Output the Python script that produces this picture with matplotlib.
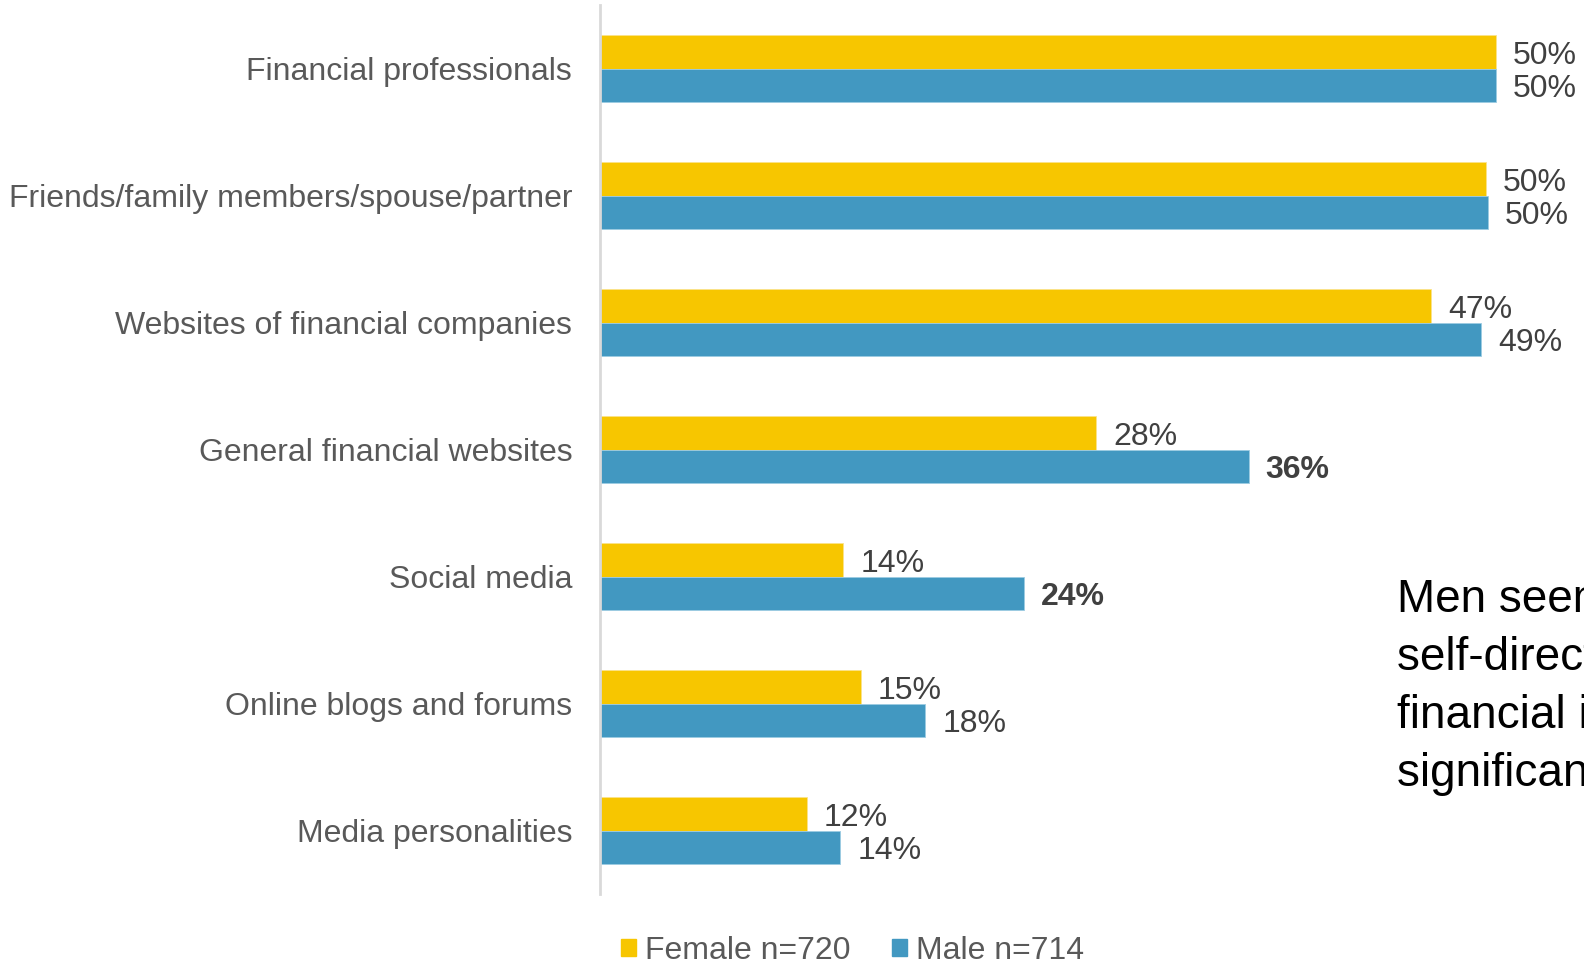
import numpy as np
import matplotlib.pyplot as plt
from matplotlib.patches import Patch

categories = ['Financial professionals',
              'Friends/family members/spouse/partner',
              'Websites of financial companies',
              'General financial websites',
              'Social media',
              'Online blogs and forums',
              'Media personalities']
female = [49.97, 49.41, 46.37, 27.66, 13.58, 14.54, 11.55]
male = [49.97, 49.52, 49.13, 36.17, 23.66, 18.14, 13.41]
female_labels = ['50%', '50%', '47%', '28%', '14%', '15%', '12%']
male_labels = ['50%', '50%', '49%', '36%', '24%', '18%', '14%']
male_bold = [False, False, False, True, True, False, False]

yellow = '#F7C600'
blue = '#4298C1'

plt.rcParams['font.family'] = ['Liberation Sans', 'DejaVu Sans']

fig = plt.figure(figsize=(15.84, 9.64), dpi=100)
ax = fig.add_axes([600/1584, 70/964, 984/1584, 889/964])

y = np.arange(len(categories))
h = 0.262
ax.barh(y - h/2, female, height=h, color=yellow, edgecolor='#fbe38a', linewidth=0.6)
ax.barh(y + h/2, male, height=h, color=blue, edgecolor='#9ccbe2', linewidth=0.6)

for i in range(len(categories)):
    ax.annotate(female_labels[i], (female[i], y[i] - h/2), xytext=(17, -4),
                textcoords='offset pixels', va='center', ha='left',
                fontsize=23, color='#404040')
    ax.annotate(male_labels[i], (male[i], y[i] + h/2), xytext=(17, -4),
                textcoords='offset pixels', va='center', ha='left',
                fontsize=23, color='#404040',
                fontweight='bold' if male_bold[i] else 'normal')

ax.set_xlim(0, 54.88)
ax.set_ylim(len(categories) - 0.5, -0.5)
ax.set_yticks(y)
ax.set_yticklabels(categories, fontsize=23, color='#595959')
ax.tick_params(axis='y', length=0, pad=20)
ax.set_xticks([])
for s in ['top', 'right', 'bottom']:
    ax.spines[s].set_visible(False)
ax.spines['left'].set_color('#d9d9d9')
ax.spines['left'].set_linewidth(2)

# side note, cut off at the right edge like the original slide
fig.text(1397/1584, 1 - 578/964,
         'Men seem more likely to use\nself-directed sources of\nfinancial information at\nsignificantly higher rates',
         fontsize=33, color='black', va='top', ha='left', linespacing=1.41)

handles = [Patch(color=yellow), Patch(color=blue)]
fig.legend(handles, ['Female n=720', 'Male n=714'], loc='center',
           bbox_to_anchor=(853/1584, 1 - 951/964), ncol=2, frameon=False,
           fontsize=23, labelcolor='#595959', handlelength=0.45, handleheight=0.45,
           handletextpad=0.3, columnspacing=1.3)

fig.savefig('out.png', dpi=100)
